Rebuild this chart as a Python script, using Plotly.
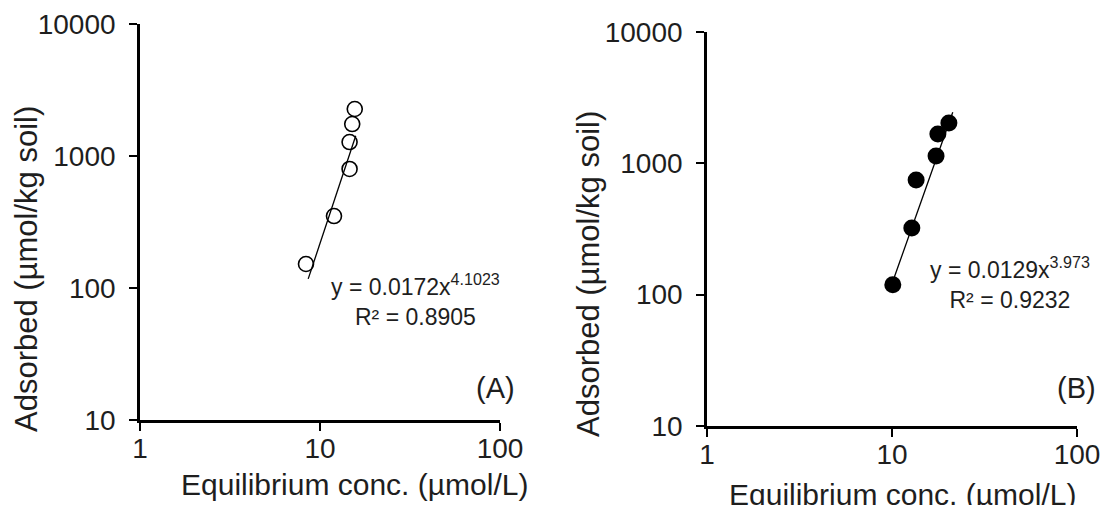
import plotly.graph_objects as go

W, H = 1104, 505

# Panel A data (open circles)
a_conc = [15.6, 15.1, 14.6, 14.6, 11.96, 8.36]
a_ads = [2270, 1746, 1276, 798, 351, 152]
a_coef, a_exp = 0.0172, 4.1023
a_fit_x = [8.6, 15.8]

# Panel B data (filled circles)
b_conc = [20.3, 17.7, 17.3, 13.5, 12.8, 10.1]
b_ads = [2032, 1675, 1138, 748, 322, 119]
b_coef, b_exp = 0.0129, 3.973
b_fit_x = [10.3, 21.3]

x_ticks = [1, 10, 100]
y_ticks = [10, 100, 1000, 10000]

FONT = "Liberation Sans"
TXT = "#1e1e1e"

fig = go.Figure()
fig.add_trace(go.Scatter(x=a_fit_x, y=[a_coef * v ** a_exp for v in a_fit_x], mode="lines",
                         line=dict(color="black", width=1.3), xaxis="x", yaxis="y", showlegend=False))
fig.add_trace(go.Scatter(x=a_conc, y=a_ads, mode="markers",
                         marker=dict(symbol="circle-open", size=15, color="black", line=dict(width=1.6)),
                         xaxis="x", yaxis="y", showlegend=False))
fig.add_trace(go.Scatter(x=b_fit_x, y=[b_coef * v ** b_exp for v in b_fit_x], mode="lines",
                         line=dict(color="black", width=1.3), xaxis="x2", yaxis="y2", showlegend=False))
fig.add_trace(go.Scatter(x=b_conc, y=b_ads, mode="markers",
                         marker=dict(symbol="circle", size=17, color="black"),
                         xaxis="x2", yaxis="y2", showlegend=False))

def px(x):
    return x / W

def py(y):
    return 1 - y / H

axis_common = dict(type="log", showgrid=False, zeroline=False, showline=True, linecolor="black",
                   linewidth=2.6, ticks="outside", ticklen=8, tickwidth=2.4, tickcolor="black",
                   tickfont=dict(family=FONT, size=28, color=TXT), ticklabelstandoff=-6,
                   automargin=False)

fig.update_layout(
    width=W, height=H, margin=dict(l=0, r=0, t=0, b=0, autoexpand=False),
    paper_bgcolor="white", plot_bgcolor="white",
    xaxis=dict(axis_common, domain=[px(140), px(500)], range=[0, 2], tickvals=x_ticks,
               ticktext=[str(v) for v in x_ticks], anchor="y"),
    yaxis=dict(axis_common, domain=[py(420), py(24)], range=[1, 4], tickvals=y_ticks,
               ticktext=[str(v) for v in y_ticks], anchor="x", ticklabelstandoff=8),
    xaxis2=dict(axis_common, domain=[px(707), px(1077)], range=[0, 2], tickvals=x_ticks,
                ticktext=[str(v) for v in x_ticks], anchor="y2"),
    yaxis2=dict(axis_common, domain=[py(426), py(32)], range=[1, 4], tickvals=y_ticks,
                ticktext=[str(v) for v in y_ticks], anchor="x2", ticklabelstandoff=8),
)

def ann(x, y, text, size, angle=0, xanchor="center", align="center"):
    fig.add_annotation(x=px(x), y=py(y), xref="paper", yref="paper", text=text, showarrow=False,
                       xanchor=xanchor, yanchor="middle", textangle=angle, align=align,
                       font=dict(family=FONT, size=size, color=TXT))

# axis titles
ann(354, 484, "Equilibrium conc. (µmol/L)", 30)
ann(902, 494, "Equilibrium conc. (µmol/L)", 30)
ann(26, 269, "Adsorbed (µmol/kg soil)", 31, -90)
ann(588, 274, "Adsorbed (µmol/kg soil)", 31, -90)

# equations
ann(415, 300, f"y = {a_coef}x<sup>{a_exp}</sup><br>R² = 0.8905", 23)
ann(1010, 283, f"y = {b_coef}x<sup>{b_exp}</sup><br>R² = 0.9232", 23)

# panel labels
ann(495, 388, "(A)", 29)
ann(1076, 388, "(B)", 29)

fig.write_html("out.html")
